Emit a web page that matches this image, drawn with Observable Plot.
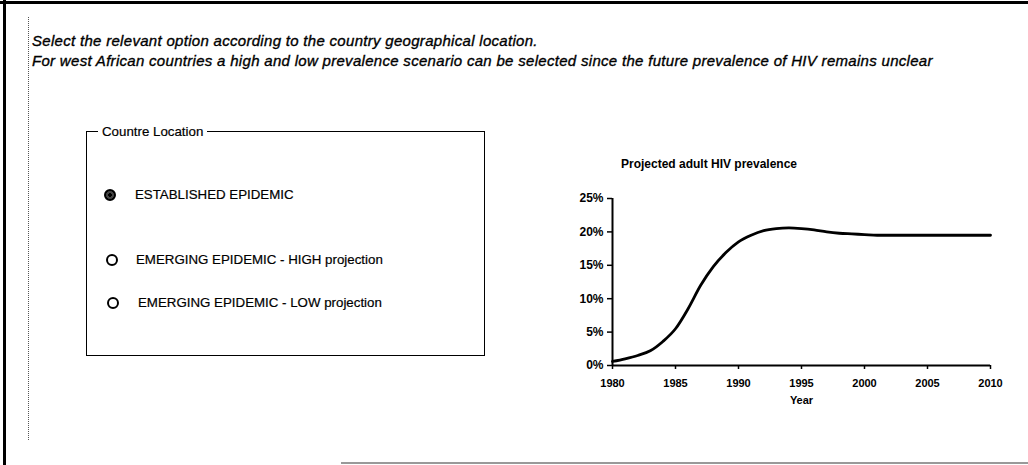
<!DOCTYPE html>
<html>
<head>
<meta charset="utf-8">
<script src="https://cdn.jsdelivr.net/npm/d3@7"></script>
<script src="https://cdn.jsdelivr.net/npm/@observablehq/plot@0.6"></script>
<style>
  html, body { margin: 0; padding: 0; background: #fff; }
  body { width: 1028px; height: 465px; position: relative; overflow: hidden; font-family: "Liberation Sans", Arial, sans-serif; color: #000; }
  .abs { position: absolute; white-space: nowrap; }
  .instr { font-style: italic; font-size: 15px; letter-spacing: 0.3px; left: 32px; -webkit-text-stroke: 0.35px #000; }
  .opt { font-size: 13.3px; -webkit-text-stroke: 0.2px #000; }
  .radio { position: absolute; width: 8px; height: 8px; border: 2px solid #000; border-radius: 50%; background: #fff; }
</style>
</head>
<body>
<!-- frame lines -->
<div class="abs" style="left:0;top:1px;width:1028px;height:3px;background:#000"></div>
<div class="abs" style="left:3px;top:0;width:3px;height:465px;background:#000"></div>
<div class="abs" style="left:28px;top:17px;width:0;height:423px;border-left:1px dotted #555"></div>
<div class="abs" style="left:341px;top:462px;width:687px;height:2px;background:#999"></div>

<div class="abs instr" id="l1" style="top:32px"></div>
<div class="abs instr" id="l2" style="top:52px"></div>

<!-- group box -->
<div class="abs" style="left:86px;top:131px;width:397px;height:223px;border:1.5px solid #000"></div>
<div class="abs" id="legend" style="left:98px;top:124px;padding:0 4px;background:#fff;font-size:13.3px;-webkit-text-stroke:0.2px #000"></div>
<div id="opts"></div>

<div class="abs" id="ctitle" style="top:157px;font-size:12px;font-weight:bold;left:559px;width:300px;text-align:center"></div>
<div id="chart" class="abs" style="left:560px;top:150px"></div>

<script>
const instructions = [
  "Select the relevant option according to the country geographical location.",
  "For west African countries a high and low prevalence scenario can be selected since the future prevalence of HIV remains unclear"
];
const groupTitle = "Countre Location";
const options = [
  "ESTABLISHED EPIDEMIC",
  "EMERGING EPIDEMIC - HIGH projection",
  "EMERGING EPIDEMIC - LOW projection"
];
const selectedOption = 0;
const chartTitle = "Projected adult HIV prevalence";
const xLabel = "Year";

const years = [1980,1981,1982,1983,1984,1985,1986,1987,1988,1989,1990,1991,1992,1993,1994,1995,1996,1997,1998,1999,2000,2001,2002,2003,2004,2005,2006,2007,2008,2009,2010];
const prevalence = [0.6,1.0,1.5,2.2,3.6,5.5,8.5,12.0,14.8,16.9,18.5,19.5,20.2,20.5,20.6,20.5,20.3,20.0,19.8,19.7,19.6,19.5,19.5,19.5,19.5,19.5,19.5,19.5,19.5,19.5,19.5];
const xTicks = [1980,1985,1990,1995,2000,2005,2010];
const yTicks = [0,5,10,15,20,25];

document.getElementById("l1").textContent = instructions[0];
document.getElementById("l2").textContent = instructions[1];
document.getElementById("legend").textContent = groupTitle;
document.getElementById("ctitle").textContent = chartTitle;

const optPos = [[110,195,135],[112,260,136],[113,303,138]];
const optsEl = document.getElementById("opts");
options.forEach((t, i) => {
  const [cx, cy, tx] = optPos[i];
  const r = document.createElement("div");
  r.className = "radio";
  r.style.left = (cx - 6) + "px";
  r.style.top = (cy - 6) + "px";
  if (i === selectedOption) {
    r.style.background = "radial-gradient(circle, #000 0 2px, #444 2px 4px, #000 4px)";
  }
  optsEl.appendChild(r);
  const s = document.createElement("div");
  s.className = "abs opt";
  s.style.left = tx + "px";
  s.style.top = (cy - 8) + "px";
  s.textContent = t;
  optsEl.appendChild(s);
});

const data = years.map((y, i) => ({year: y, value: prevalence[i]}));

const chart = Plot.plot({
  width: 460,
  height: 260,
  marginLeft: 52,
  marginRight: 30,
  marginTop: 48,
  marginBottom: 45,
  style: {fontFamily: "Liberation Sans, Arial, sans-serif", fontSize: "11px", fontWeight: "bold", color: "#000", background: "transparent"},
  x: {domain: [1980, 2010]},
  y: {domain: [0, 25]},
  marks: [
    Plot.axisY({ticks: yTicks, tickFormat: d => d + "%", tickSize: 5, tickPadding: 4, label: null, strokeWidth: 1.5, fontSize: 12}),
    Plot.axisX({ticks: xTicks, tickFormat: d => String(d), tickSize: 4, tickPadding: 10, label: xLabel, labelAnchor: "center", labelArrow: "none", labelOffset: 38, strokeWidth: 1.5}),
    Plot.ruleX([1980], {strokeWidth: 2}),
    Plot.ruleY([0], {strokeWidth: 2}),
    Plot.line(data, {x: "year", y: "value", curve: "monotone-x", strokeWidth: 2.8, stroke: "#000"})
  ]
});
document.getElementById("chart").appendChild(chart);
</script>
</body>
</html>
